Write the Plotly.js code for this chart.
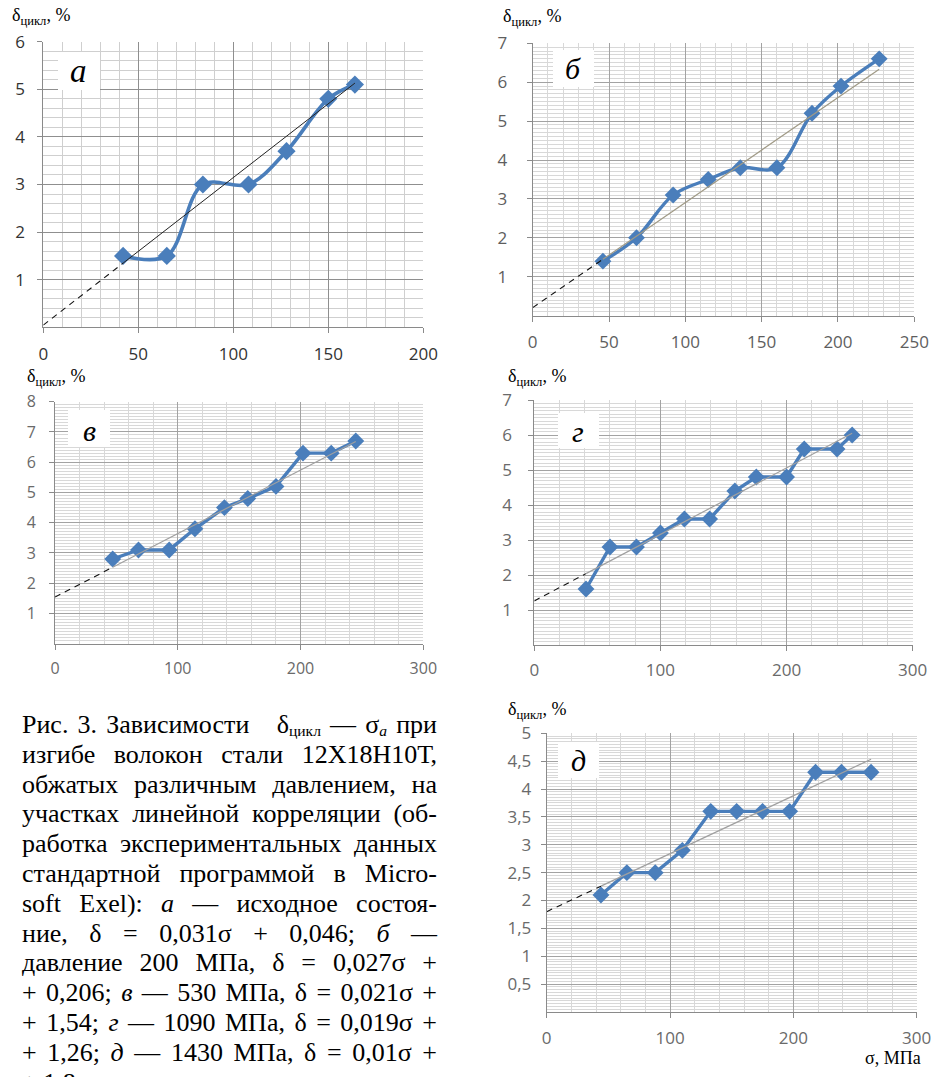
<!DOCTYPE html>
<html>
<head>
<meta charset="utf-8">
<script src="https://cdn.plot.ly/plotly-3.0.1.min.js"></script>
<style>
html,body{margin:0;padding:0;overflow:hidden;background:#fff;width:932px;height:1077px;}
#chart{position:absolute;left:0;top:0;width:932px;height:1077px;}
#caption{position:absolute;left:22px;top:710px;width:415px;font-family:"Liberation Serif","Times New Roman",serif;font-size:26px;line-height:29.8px;color:#000;}
#caption div{text-align:justify;text-align-last:justify;white-space:nowrap;}
#caption div.last{text-align-last:left;}
#caption sub{font-size:60%;vertical-align:-0.2em;line-height:0;}
</style>
</head>
<body>
<div id="chart"></div>
<div id="caption">
<div>Рис. 3. Зависимости &nbsp; δ<sub>цикл</sub> — σ<sub><i>a</i></sub> при</div>
<div>изгибе волокон стали 12Х18Н10Т,</div>
<div>обжатых различным давлением, на</div>
<div>участках линейной корреляции (об-</div>
<div>работка экспериментальных данных</div>
<div>стандартной программой в Micro-</div>
<div>soft Exel): <i>а</i> — исходное состоя-</div>
<div>ние, δ = 0,031σ + 0,046; <i>б</i> —</div>
<div>давление 200 МПа, δ = 0,027σ +</div>
<div>+ 0,206; <i>в</i> — 530 МПа, δ = 0,021σ +</div>
<div>+ 1,54; <i>г</i> — 1090 МПа, δ = 0,019σ +</div>
<div>+ 1,26; <i>д</i> — 1430 МПа, δ = 0,01σ +</div>
<div class="last">+ 1,8</div>
</div>
<script>
// ---- data ----
const sigmaA = [42, 65, 84, 108, 128, 150, 164];
const deltaA = [1.5, 1.5, 3.0, 3.0, 3.7, 4.8, 5.1];
const sigmaB = [46, 68, 92, 115, 136, 160, 183, 202, 227];
const deltaB = [1.4, 2.0, 3.1, 3.5, 3.8, 3.8, 5.2, 5.9, 6.6];
const sigmaC = [47, 68, 93, 114, 138, 157, 180, 202, 225, 245];
const deltaC = [2.8, 3.1, 3.1, 3.8, 4.5, 4.8, 5.2, 6.3, 6.3, 6.7];
const sigmaD = [41, 60, 81, 100, 119, 139, 159, 176, 200, 214, 240, 252];
const deltaD = [1.6, 2.8, 2.8, 3.2, 3.6, 3.6, 4.4, 4.8, 4.8, 5.6, 5.6, 6.0];
const sigmaE = [44, 65, 88, 110, 133, 154, 175, 197, 218, 239, 263];
const deltaE = [2.1, 2.5, 2.5, 2.9, 3.6, 3.6, 3.6, 3.6, 4.3, 4.3, 4.3];

const trendSlope = [0.031, 0.027, 0.021, 0.019, 0.0104];
const trendIntercept = [0.046, 0.206, 1.54, 1.26, 1.8];

const panelLetters = ['а', 'б', 'в', 'г', 'д'];
const xTicksA = [0, 50, 100, 150, 200];
const xTicksB = [0, 50, 100, 150, 200, 250];
const xTicksCDE = [0, 100, 200, 300];
const yTicksA = [1, 2, 3, 4, 5, 6];
const yTicksB = [1, 2, 3, 4, 5, 6, 7];
const yTicksC = [1, 2, 3, 4, 5, 6, 7, 8];
const yTicksD = [1, 2, 3, 4, 5, 6, 7];
const yTicksE = [0.5, 1, 1.5, 2, 2.5, 3, 3.5, 4, 4.5, 5];

// ---- layout geometry ----
const W = 932, H = 1077;
const px = v => v / W;
const py = v => 1 - v / H;

const panels = [
  {sx: sigmaA, sy: deltaA, box: [43.3, 423.3, 41.7, 327.3], xr: [0, 200], xt: xTicksA, xm: 10, yr: [0, 6], yt: yTicksA, ym: 0.2,
   shape: 'spline', trendColor: '#222222', trendW: 1, tickCol: '#333333', tickSize: 17, ySo: 9, xSo: 6, lw: 3.6, ms: 14,
   lab: [78, 71], box2: [58, 100, 52, 90], title: [41, 17]},
  {sx: sigmaB, sy: deltaB, box: [532.7, 914.3, 43.3, 315.6], xr: [0, 250], xt: xTicksB, xm: 10, yr: [0, 7], yt: yTicksB, ym: 0.1,
   shape: 'spline', trendColor: '#a09a86', trendW: 1.2, tickCol: '#5e5e5e', tickSize: 17, ySo: 16, xSo: 6, lw: 3.4, ms: 13,
   lab: [573, 68], box2: [553, 594, 50, 87], title: [532, 18]},
  {sx: sigmaC, sy: deltaC, box: [55, 423.3, 401.7, 643.7], xr: [0, 300], xt: xTicksCDE, xm: 20, yr: [0, 8], yt: yTicksC, ym: 0.1,
   shape: 'linear', trendColor: '#a0a0a0', trendW: 1.2, tickCol: '#6a6a6a', tickSize: 16, ySo: 10, xSo: 5, lw: 3.4, ms: 13,
   lab: [89, 430], box2: [68, 110, 410, 447], title: [56, 377]},
  {sx: sigmaD, sy: deltaD, box: [534.3, 912.7, 400, 645], xr: [0, 300], xt: xTicksCDE, xm: 20, yr: [0, 7], yt: yTicksD, ym: 0.1,
   shape: 'linear', trendColor: '#a0a0a0', trendW: 1.2, tickCol: '#6a6a6a', tickSize: 17, ySo: 13, xSo: 5, lw: 3.4, ms: 13,
   lab: [578, 432], box2: [558, 599, 413, 448], title: [537, 377]},
  {sx: sigmaE, sy: deltaE, box: [546.7, 916.7, 733.3, 1012], xr: [0, 300], xt: xTicksCDE, xm: 20, yr: [0, 5], yt: yTicksE, ym: 0.05,
   shape: 'linear', trendColor: '#a0a0a0', trendW: 1.2, tickCol: '#6a6a6a', tickSize: 17, ySo: 6, xSo: 6, lw: 3.4, ms: 13,
   lab: [578, 760], box2: [558, 599, 742, 778], title: [537, 710]}
];

const traces = [];
const layout = {
  width: W, height: H,
  margin: {l: 0, r: 0, t: 0, b: 0},
  paper_bgcolor: '#ffffff', plot_bgcolor: '#ffffff',
  showlegend: false,
  separators: ', ',
  annotations: [],
  shapes: []
};

const serif = '"Liberation Serif", "Times New Roman", serif';
const sans = '"Open Sans", "Liberation Sans", sans-serif';

panels.forEach((p, i) => {
  const n = i + 1;
  const xa = n === 1 ? 'x' : 'x' + n;
  const ya = n === 1 ? 'y' : 'y' + n;
  const xk = n === 1 ? 'xaxis' : 'xaxis' + n;
  const yk = n === 1 ? 'yaxis' : 'yaxis' + n;
  const [x0, x1, y0, y1] = p.box;
  const gridMajor = i === 0 ? '#8f8f8f' : '#a3a3a3';
  const gridMinor = i === 0 ? '#cfcfcf' : '#d8d8d8';

  layout[xk] = {
    domain: [px(x0), px(x1)], range: p.xr, anchor: ya,
    tickmode: 'array', tickvals: p.xt,
    showgrid: true, gridcolor: gridMajor, gridwidth: 1,
    minor: {dtick: p.xm, showgrid: true, gridcolor: gridMinor, gridwidth: 1},
    showline: true, linecolor: '#8a8a8a', linewidth: 1,
    ticks: 'outside', ticklen: 5, tickcolor: '#8a8a8a',
    tickfont: {family: sans, size: p.tickSize, color: p.tickCol},
    ticklabelstandoff: p.xSo,
    zeroline: false, fixedrange: true
  };
  layout[yk] = {
    domain: [py(y1), py(y0)], range: p.yr, anchor: xa,
    tickmode: 'array', tickvals: p.yt,
    showgrid: true, gridcolor: gridMajor, gridwidth: 1,
    minor: {dtick: p.ym, showgrid: true, gridcolor: gridMinor, gridwidth: 1},
    showline: true, linecolor: '#8a8a8a', linewidth: 1,
    ticks: 'outside', ticklen: 5, tickcolor: '#8a8a8a',
    tickfont: {family: sans, size: p.tickSize, color: p.tickCol},
    ticklabelstandoff: p.ySo,
    zeroline: false, fixedrange: true
  };

  // data line
  traces.push({
    type: 'scatter', mode: 'lines+markers', x: p.sx, y: p.sy, xaxis: xa, yaxis: ya,
    line: {color: '#4a7ebb', width: p.lw, shape: p.shape, smoothing: 1},
    marker: {symbol: 'diamond', size: p.ms, color: '#4a7ebb', line: {width: 0}},
    hoverinfo: 'skip'
  });

  // linear trend (solid over the data range, dashed extrapolation to σ = 0)
  const k = trendSlope[i], b = trendIntercept[i];
  const first = p.sx[0], last = p.sx[p.sx.length - 1];
  traces.push({
    type: 'scatter', mode: 'lines', x: [0, first], y: [b, k * first + b], xaxis: xa, yaxis: ya,
    line: {color: '#111111', width: 1.1, dash: '6px,5px'}, hoverinfo: 'skip'
  });
  traces.push({
    type: 'scatter', mode: 'lines', x: [first, last], y: [k * first + b, k * last + b], xaxis: xa, yaxis: ya,
    line: {color: p.trendColor, width: p.trendW}, hoverinfo: 'skip'
  });

  // panel letter in a white box
  const [bx0, bx1, by0, by1] = p.box2;
  layout.shapes.push({type: 'rect', xref: 'paper', yref: 'paper',
    x0: px(bx0), x1: px(bx1), y0: py(by1), y1: py(by0),
    fillcolor: '#ffffff', line: {width: 0}, layer: 'above'});
  layout.annotations.push({
    xref: 'paper', yref: 'paper', x: px(p.lab[0]), y: py(p.lab[1]),
    xanchor: 'center', yanchor: 'middle', showarrow: false,
    text: '<i>' + panelLetters[i] + '</i>',
    font: {family: serif, size: i === 0 ? 33 : 30, color: '#000000'}
  });

  // y-axis title
  layout.annotations.push({
    xref: 'paper', yref: 'paper', x: px(p.title[0]), y: py(p.title[1]),
    xanchor: 'center', yanchor: 'middle', showarrow: false,
    text: 'δ<sub>цикл</sub>, %',
    font: {family: serif, size: 18, color: '#000000'}
  });
});

layout.annotations.push({
  xref: 'paper', yref: 'paper', x: px(893), y: py(1058),
  xanchor: 'center', yanchor: 'middle', showarrow: false,
  text: 'σ, МПа', font: {family: serif, size: 18, color: '#000000'}
});

Plotly.newPlot('chart', traces, layout, {staticPlot: true, displayModeBar: false});
</script>
</body>
</html>
